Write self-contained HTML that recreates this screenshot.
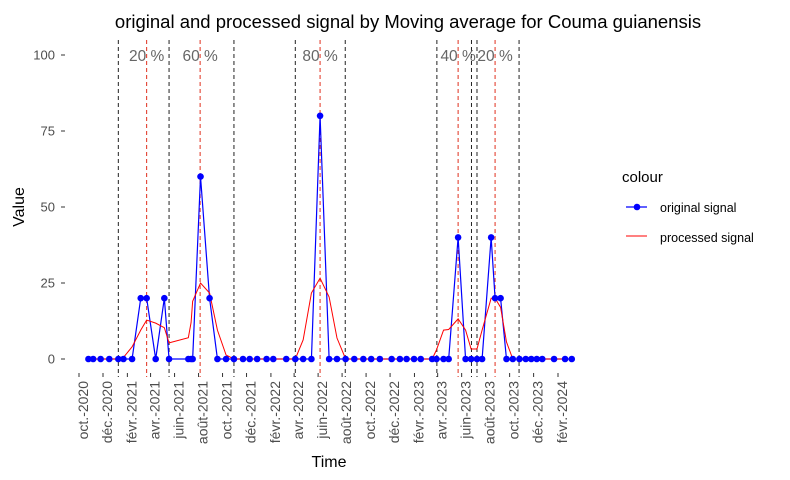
<!DOCTYPE html>
<html><head><meta charset="utf-8">
<style>
body{margin:0;background:#fff;}
svg{display:block;font-family:"Liberation Sans",sans-serif;}
</style></head>
<body>
<svg id="chart" width="790" height="480" viewBox="0 0 790 480" xmlns="http://www.w3.org/2000/svg">
<rect width="790" height="480" fill="#fff"/>
<text x="408" y="28" text-anchor="middle" font-size="18.5" fill="#000">original and processed signal by Moving average for Couma guianensis</text>
<g id="yaxis"></g>
<g id="xaxis"></g>
<g id="vlines"></g>
<g id="series"></g>
<text x="0" y="0" transform="translate(24,207) rotate(-90)" text-anchor="middle" font-size="16">Value</text>
<text x="329" y="467" text-anchor="middle" font-size="16">Time</text>
<g>
<text x="622" y="182" font-size="15">colour</text>
<g>
<line x1="626" y1="207" x2="647" y2="207" stroke="#0000ff" stroke-width="1.2"/>
<circle cx="637" cy="207" r="3.3" fill="#0000ff"/>
<text x="660" y="212" font-size="12.5">original signal</text>
</g>
<g>
<line x1="626" y1="236" x2="647" y2="236" stroke="#ff0000" stroke-width="1"/>
<text x="660" y="242" font-size="12.5">processed signal</text>
</g>
</g>
</svg>
<script>
const dates = ["2020-10-25","2020-11-06","2020-11-25","2020-12-17","2021-01-09","2021-01-22","2021-02-13","2021-03-07","2021-03-22","2021-04-14","2021-05-06","2021-05-18","2021-07-06","2021-07-13","2021-07-17","2021-08-06","2021-08-29","2021-09-18","2021-10-10","2021-10-30","2021-11-22","2021-12-09","2021-12-28","2022-01-21","2022-02-07","2022-03-12","2022-04-04","2022-04-24","2022-05-15","2022-06-06","2022-06-29","2022-07-19","2022-08-10","2022-09-01","2022-09-24","2022-10-14","2022-11-05","2022-12-05","2022-12-26","2023-01-12","2023-01-31","2023-02-17","2023-03-18","2023-03-29","2023-04-16","2023-04-29","2023-05-23","2023-06-11","2023-06-25","2023-07-10","2023-07-23","2023-08-15","2023-08-25","2023-09-08","2023-09-23","2023-10-09","2023-10-26","2023-11-11","2023-11-25","2023-12-09","2023-12-23","2024-01-22","2024-02-19","2024-03-07"];
const original = [0,0,0,0,0,0,0,20,20,0,20,0,0,0,0,60,20,0,0,0,0,0,0,0,0,0,0,0,0,80,0,0,0,0,0,0,0,0,0,0,0,0,0,0,0,0,40,0,0,0,0,40,20,20,0,0,0,0,0,0,0,0,0,0];
const processed = [0,0,0,0,0,0.5,4,9.5,12.8,11.8,10.3,5.3,7,12,19,25,21.7,9.5,1.3,0,0,0,0,0,0,0,0,6.3,21.7,26.6,20.4,6.9,0,0,0,0,0,0,0,0,0,0,0,3,9.5,9.7,13.2,9.5,3.3,3.3,9.5,20,20,17,5.6,0,0,0,0,0,0,0,0,0];
const peakDates = ["2021-03-22","2021-08-05","2022-06-06","2023-05-23","2023-08-25"];
const peakLabels = ["20 %","60 %","80 %","40 %","20 %"];
const boundDates = ["2021-01-09","2021-05-18","2021-10-30","2022-04-04","2022-08-09","2023-03-30","2023-06-26","2023-07-10","2023-10-25"];
const yTicks = [0,25,50,75,100];
const xTickLabels = ["oct.-2020","déc.-2020","févr.-2021","avr.-2021","juin-2021","août-2021","oct.-2021","déc.-2021","févr.-2022","avr.-2022","juin-2022","août-2022","oct.-2022","déc.-2022","févr.-2023","avr.-2023","juin-2023","août-2023","oct.-2023","déc.-2023","févr.-2024"];
const xTickDates = ["2020-10-01","2020-12-01","2021-02-01","2021-04-01","2021-06-01","2021-08-01","2021-10-01","2021-12-01","2022-02-01","2022-04-01","2022-06-01","2022-08-01","2022-10-01","2022-12-01","2023-02-01","2023-04-01","2023-06-01","2023-08-01","2023-10-01","2023-12-01","2024-02-01"];

const NS="http://www.w3.org/2000/svg";
const t0=Date.UTC(2020,9,1), t1=Date.UTC(2024,1,1);
function xs(d){const t=Date.parse(d+"T00:00:00Z");return 79+(t-t0)/(t1-t0)*(558-79);}
function ys(v){return 359-v*(359-55)/100;}
function mk(tag,attrs,parent){const e=document.createElementNS(NS,tag);for(const k in attrs)e.setAttribute(k,attrs[k]);parent.appendChild(e);return e;}
const yax=document.getElementById('yaxis'), xax=document.getElementById('xaxis'), vl=document.getElementById('vlines'), ser=document.getElementById('series');
yTicks.forEach(v=>{
  const l=mk('line',{x1:61,x2:65,y1:ys(v),y2:ys(v),stroke:'#333'},yax);
  
  
  const t=mk('text',{x:55,y:ys(v)+4.5,'text-anchor':'end','font-size':13,fill:'#4d4d4d'},yax);
  
  
  t.textContent=v;
});
xTickDates.forEach((d,i)=>{
  const x=xs(d);
  const l=mk('line',{x1:x,x2:x,y1:373,y2:377,stroke:'#333'},xax);
  
  
  const t=mk('text',{x:0,y:0,transform:`translate(${x+9},381) rotate(-90)`,'text-anchor':'end','font-size':14,fill:'#4d4d4d'},xax);
  
  
  t.textContent=xTickLabels[i];
});
boundDates.forEach(d=>{
  const l=mk('line',{x1:xs(d),x2:xs(d),y1:40,y2:377,stroke:'#222','stroke-dasharray':'4,3','stroke-width':1},vl);
  
  
});
peakDates.forEach((d,i)=>{
  const l=mk('line',{x1:xs(d),x2:xs(d),y1:40,y2:377,stroke:'#e0301e','stroke-dasharray':'4,3','stroke-width':1},vl);
  
  
  const t=mk('text',{x:xs(d),y:61,'text-anchor':'middle','font-size':15.5,fill:'#666'},vl);
  
  
  t.textContent=peakLabels[i];
});
const po=dates.map((d,i)=>xs(d)+','+ys(original[i])).join(' ');
const pl=mk('polyline',{points:po,fill:'none',stroke:'#0000ff','stroke-width':1.2},ser);


const pp=dates.map((d,i)=>xs(d)+','+ys(processed[i])).join(' ');
const pr=mk('polyline',{points:pp,fill:'none',stroke:'#ff0000','stroke-width':1},ser);


dates.forEach((d,i)=>{
  const c=mk('circle',{cx:xs(d),cy:ys(original[i]),r:3.3,fill:'#0000ff'},ser);
  
  
});
</script>
</body></html>
